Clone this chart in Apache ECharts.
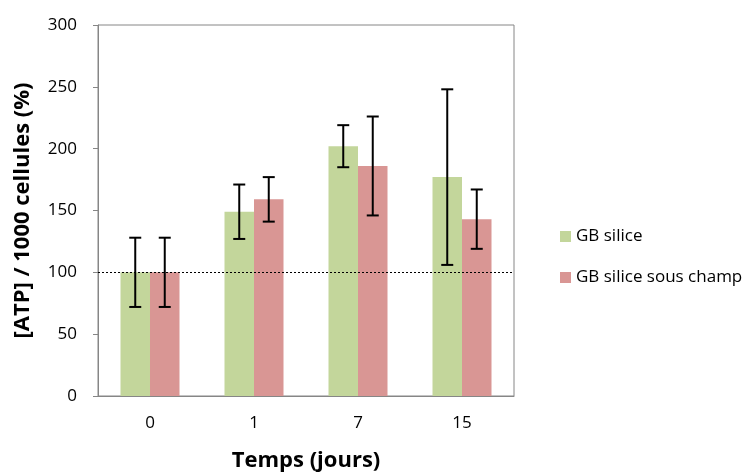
<!DOCTYPE html>
<html><head><meta charset="utf-8">
<script src="https://cdn.jsdelivr.net/npm/echarts@6/dist/echarts.min.js"></script>
<style>html,body{margin:0;padding:0;background:#fff}#c{width:752px;height:472px}</style>
</head><body><div id="c"></div>
<script>
const categories = ['0', '1', '7', '15'];
const seriesNames = ['GB silice', 'GB silice sous champ'];
const greenValues = [100, 149, 202, 177];
const greenErrors = [28, 22, 17, 71];
const redValues = [100, 159, 186, 143];
const redErrors = [28, 18, 40, 24];
const referenceLevel = 100;

const BAR_W = 29.5;
const FONT = '"Open Sans", "Liberation Sans", sans-serif';

function errData(vals, errs) {
  return vals.map((v, i) => [i, v - errs[i], v + errs[i]]);
}
function errSeries(vals, errs, side) {
  return {
    type: 'custom',
    data: errData(vals, errs),
    z: 10,
    renderItem: function (params, api) {
      const i = api.value(0);
      const lo = api.coord([i, api.value(1)]);
      const hi = api.coord([i, api.value(2)]);
      const x = lo[0] + side * BAR_W / 2;
      const cap = 6;
      const st = { stroke: '#000', lineWidth: 2 };
      return {
        type: 'group',
        children: [
          { type: 'line', shape: { x1: x, y1: hi[1], x2: x, y2: lo[1] }, style: st },
          { type: 'line', shape: { x1: x - cap, y1: hi[1], x2: x + cap, y2: hi[1] }, style: st },
          { type: 'line', shape: { x1: x - cap, y1: lo[1], x2: x + cap, y2: lo[1] }, style: st }
        ]
      };
    }
  };
}

const chart = echarts.init(document.getElementById('c'));
chart.setOption({
  animation: false,
  grid: {
    left: 98, top: 25, width: 416, height: 371,
    outerBoundsMode: 'none', containLabel: false,
    show: true, borderColor: '#868686', borderWidth: 1
  },
  legend: {
    orient: 'vertical', left: 555, top: 223, itemGap: 24,
    itemWidth: 11, itemHeight: 11, icon: 'rect',
    textStyle: { fontFamily: FONT, fontSize: 17, color: '#000' },
    data: seriesNames
  },
  xAxis: {
    type: 'category', data: categories,
    name: 'Temps (jours)', nameLocation: 'middle', nameGap: 54,
    nameTextStyle: { fontFamily: FONT, fontSize: 22, fontWeight: 'bold', color: '#000' },
    axisLine: { lineStyle: { color: '#868686' } },
    axisTick: { show: false },
    axisLabel: { fontFamily: FONT, fontSize: 17, color: '#000', margin: 19 }
  },
  yAxis: {
    type: 'value', min: 0, max: 300, interval: 50,
    name: '[ATP] / 1000 cellules (%)', nameLocation: 'middle', nameGap: 64,
    nameTextStyle: { fontFamily: FONT, fontSize: 22, fontWeight: 'bold', color: '#000' },
    axisLine: { show: true, lineStyle: { color: '#868686' } },
    axisTick: { show: true, length: 5, lineStyle: { color: '#868686' } },
    splitLine: { show: false },
    axisLabel: { fontFamily: FONT, fontSize: 17, color: '#000', margin: 21 }
  },
  series: [
    {
      name: seriesNames[0], type: 'bar', data: greenValues, barWidth: BAR_W, barGap: '0%',
      itemStyle: { color: '#C3D69B' },
      markLine: {
        silent: true, symbol: 'none', label: { show: false },
        lineStyle: { color: '#000', type: [2, 2], width: 1.2 },
        data: [{ yAxis: referenceLevel }]
      }
    },
    {
      name: seriesNames[1], type: 'bar', data: redValues, barWidth: BAR_W, barGap: '0%',
      itemStyle: { color: '#D99694' }
    },
    errSeries(greenValues, greenErrors, -1),
    errSeries(redValues, redErrors, 1)
  ]
});
</script></body></html>
